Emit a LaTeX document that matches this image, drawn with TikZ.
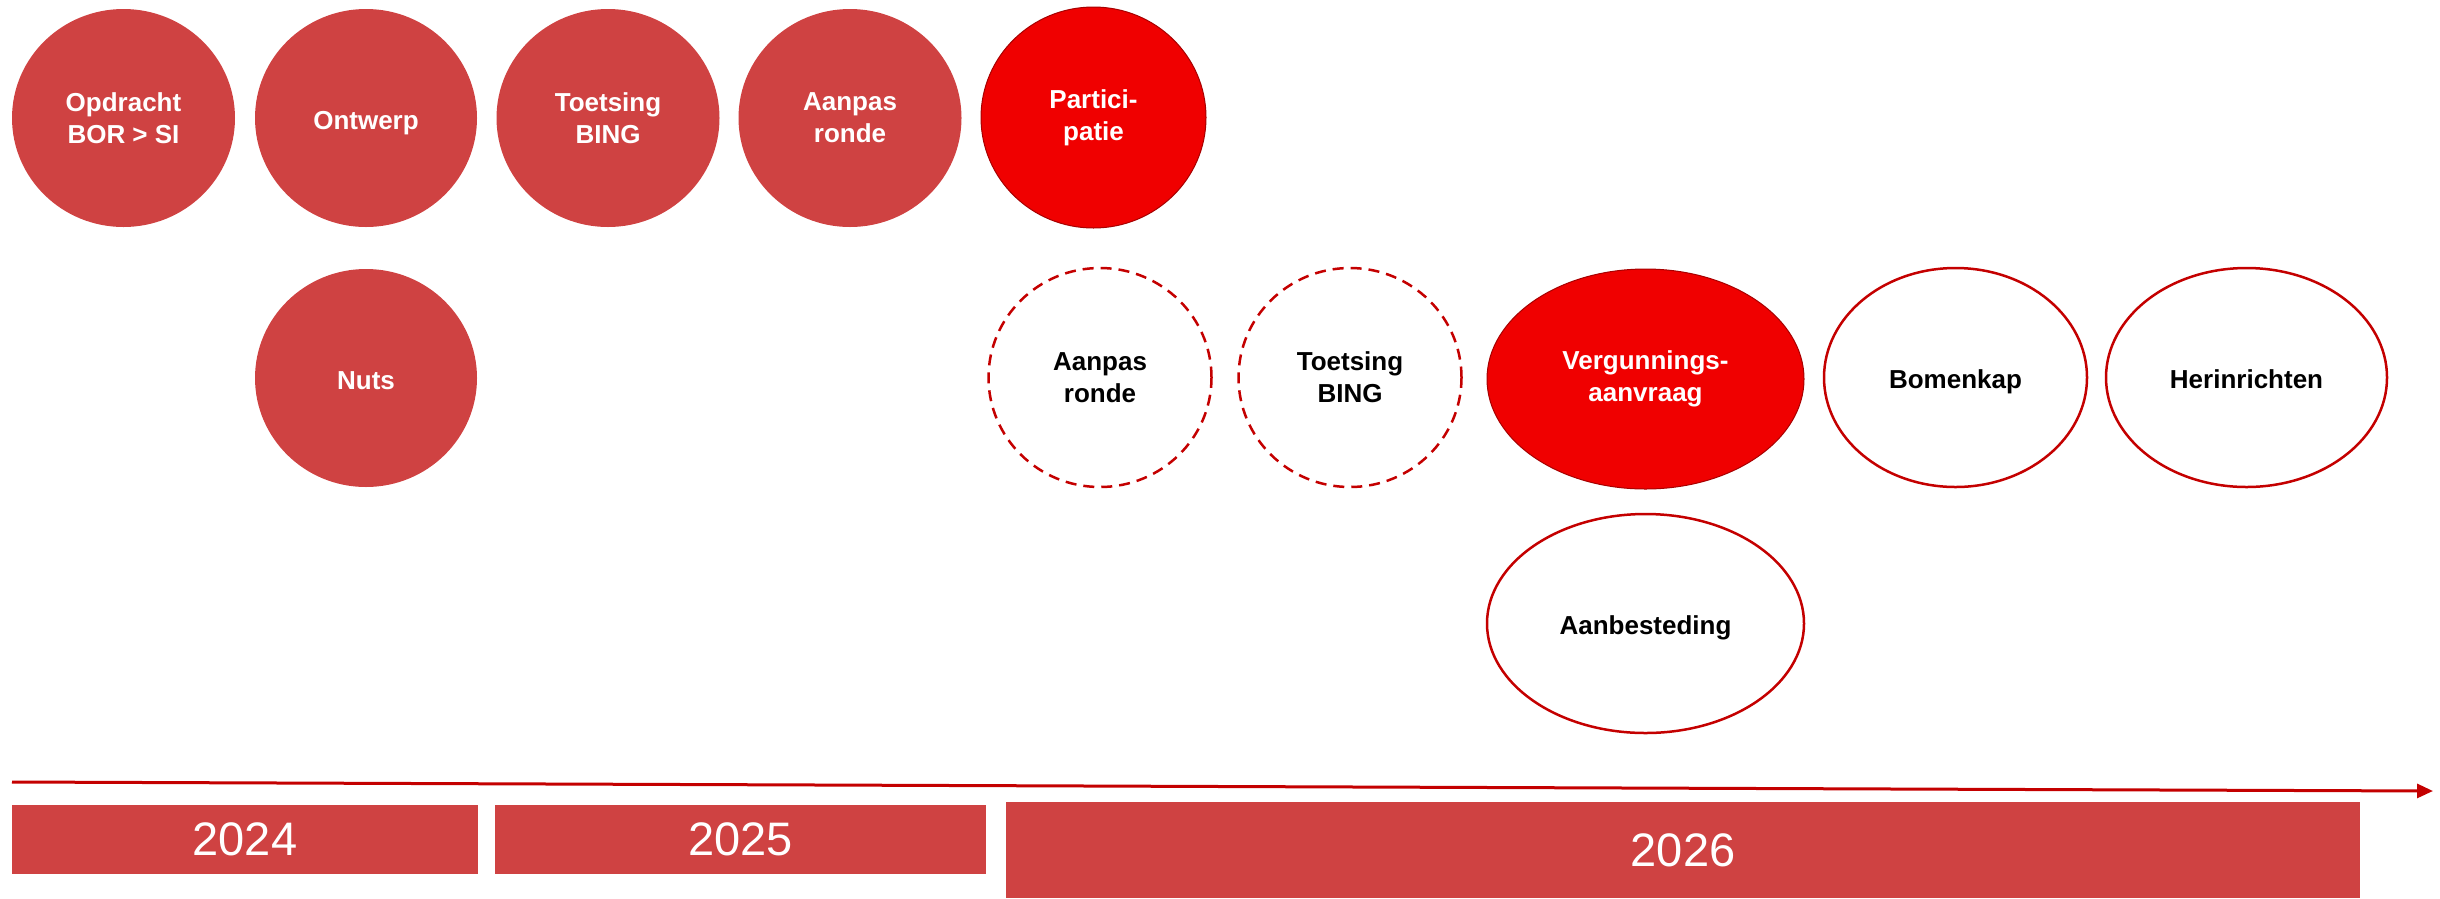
\documentclass[tikz,border=0pt]{standalone}
\usepackage{fontspec}
\setmainfont{Liberation Sans}
\usetikzlibrary{shapes.geometric,arrows.meta}
\definecolor{mutedred}{RGB}{207,66,66}
\definecolor{brightred}{RGB}{240,0,0}
\definecolor{darkred}{RGB}{196,0,0}
\newcommand{\oneline}[1]{\raisebox{-11pt}[0pt][0pt]{#1}}
\begin{document}
\begin{tikzpicture}[x=1pt,y=-1pt,
  phase/.style={ellipse,inner sep=0pt,align=center,font=\fontsize{26}{32}\selectfont\bfseries},
  done/.style={phase,fill=mutedred,text=white},
  hot/.style={phase,fill=brightred,draw=darkred!85!black,line width=1pt,text=white},
  maybe/.style={phase,draw=darkred,line width=2.5pt,dash pattern=on 11pt off 7pt,text=black},
  todo/.style={phase,draw=darkred,line width=2.5pt,text=black},
  yearbox/.style={rectangle,fill=mutedred,inner sep=0pt,text=white,font=\fontsize{47}{56}\selectfont}]
\useasboundingbox (0,0) rectangle (2440,898);
% top row
\node[done,minimum width=223pt,minimum height=218pt] (op) at (123.5,118) {Opdracht\\BOR > SI};
\node[done,minimum width=222pt,minimum height=218pt] (on) at (366,118) {\oneline{Ontwerp}};
\node[done,minimum width=223pt,minimum height=218pt] (tb) at (608,118) {Toetsing\\BING};
\node[done,minimum width=223pt,minimum height=218pt] (ar) at (850,118) {Aanpas\\ronde};
\node[hot,minimum width=225pt,minimum height=221pt] (pa) at (1093.5,117.5) {Partici-\\patie};
% second row
\node[done,minimum width=222pt,minimum height=218pt] (nu) at (366,378) {\oneline{Nuts}};
\node[maybe,minimum width=223pt,minimum height=219pt] (ar2) at (1100,377.5) {Aanpas\\ronde};
\node[maybe,minimum width=223pt,minimum height=219pt] (tb2) at (1350,377.5) {Toetsing\\BING};
\node[hot,minimum width=317pt,minimum height=220pt] (ve) at (1645.5,379) {Vergunnings-\\aanvraag};
\node[todo,minimum width=263pt,minimum height=219pt] (bo) at (1955.5,377.5) {\oneline{Bomenkap}};
\node[todo,minimum width=281pt,minimum height=219pt] (he) at (2246.5,377.5) {\oneline{Herinrichten}};
% third row
\node[todo,minimum width=317pt,minimum height=219pt] (ab) at (1645.5,623.5) {\oneline{Aanbesteding}};
% time axis
\coordinate (t0) at (12,782);
\coordinate (t1) at (2433,791);
\draw[darkred,line width=3pt,-{Triangle[length=16pt,width=14pt]}] (t0) -- (t1);
% years
\node[yearbox,minimum width=466pt,minimum height=69pt] (y24) at (245,839.5) {2024};
\node[yearbox,minimum width=491pt,minimum height=69pt] (y25) at (740.5,839.5) {2025};
\node[yearbox,minimum width=1354pt,minimum height=96pt] (y26) at (1683,850) {2026};
\end{tikzpicture}
\end{document}
